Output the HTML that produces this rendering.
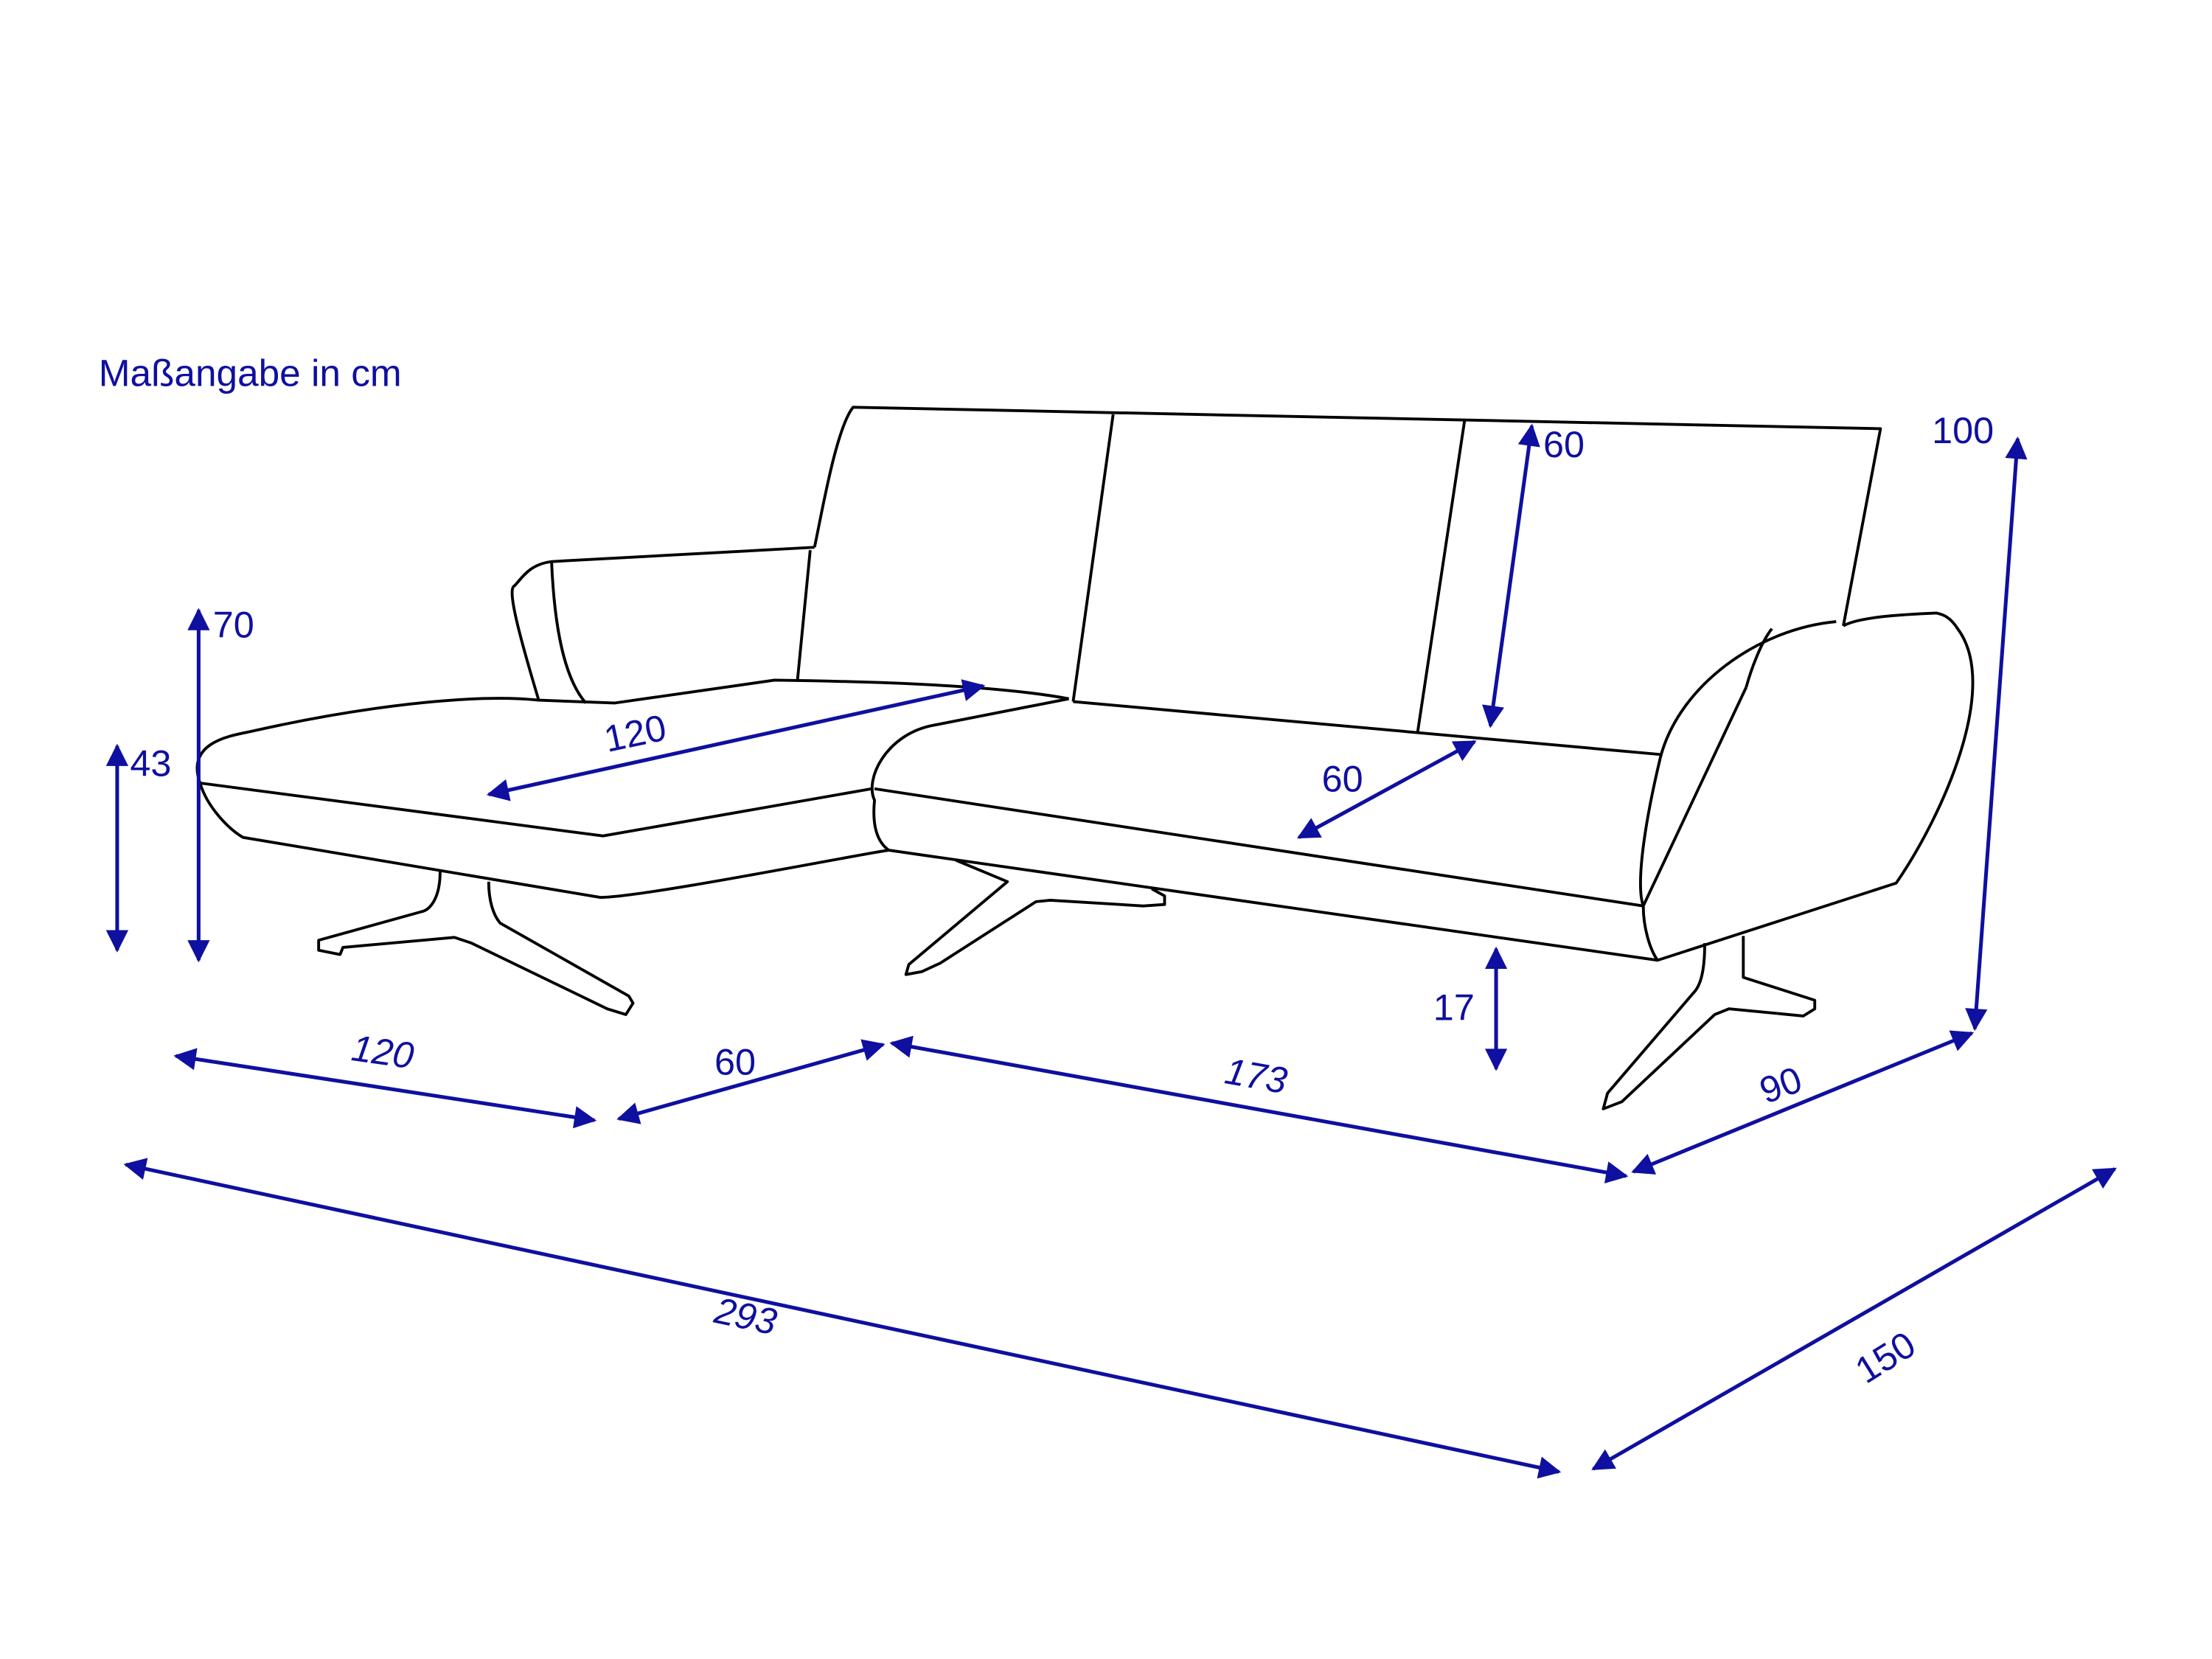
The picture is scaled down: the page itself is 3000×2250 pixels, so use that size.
<!DOCTYPE html>
<html><head><meta charset="utf-8"><style>html,body{margin:0;padding:0;background:#fff}svg{display:block}</style></head><body>
<svg width="3000" height="2250" viewBox="0 0 1548 1161" xmlns="http://www.w3.org/2000/svg">
<defs>
<marker id="a" viewBox="0 0 10 10" refX="9" refY="5" markerWidth="9" markerHeight="6" orient="auto-start-reverse" markerUnits="strokeWidth">
<path d="M0,0 L10,5 L0,10 z" fill="#0f0fa0"/></marker>
</defs>
<rect width="1548" height="1161" fill="#fff"/>
<g fill="none" stroke="#000" stroke-width="2" stroke-linejoin="round">
<path d="M570,383 C575,360 585,300 597,285 L1316,300 L1290,438"/>
<path d="M779,290 L751,491 M1025,294 L992,513"/>
<path d="M570,383 L386,393 C370,395 365,405 360,410 C355,412 362,440 377,490 M386,393 C388,440 395,475 410,492 M567,385 L558,477"/>
<path d="M140,548 C130,520 160,515 175,512 C250,495 330,485 377,490 L430,492 L542,476 C620,477 700,480 748,489"/>
<path d="M140,548 L422,585 L610,552 M140,548 C145,565 160,580 170,586 L420,628 C450,628 600,598 622,595"/>
<path d="M748,489 L651,508 C620,515 605,545 612,560 C610,580 615,590 622,595 L1160,672 L1327,618 C1360,570 1400,480 1370,440 C1365,432 1360,430 1355,429 C1330,430 1300,432 1290,438"/>
<path d="M751,491 L1162,528 M612,552 L1150,634"/>
<path d="M1285,435 C1230,440 1175,480 1162,530 C1150,580 1145,620 1150,634 C1150,650 1155,665 1160,672 M1222,481 L1150,634 M1240,440 C1232,450 1225,470 1222,481"/>
<path d="M308,610 C308,630 300,637 295,638 L223,658 L223,665 L238,668 L240,663 L318,656 L330,660 L425,706 L438,710 L443,702 L440,697 L350,646 C345,640 342,630 342,617"/>
<path d="M669,602 L705,617 L636,675 L634,682 L645,680 L658,674 L725,631 L735,630 L800,634 L815,633 L815,627 L806,622"/>
<path d="M1193,660 C1193,680 1190,690 1185,695 L1125,765 L1122,776 L1135,771 L1200,710 L1210,706 L1262,711 L1270,706 L1270,700 L1220,684 L1220,655"/>
</g>
<g stroke="#0f0fa0" stroke-width="2.6" marker-start="url(#a)" marker-end="url(#a)">
<line x1="139" y1="427" x2="139" y2="672"/>
<line x1="82" y1="522" x2="82" y2="665"/>
<line x1="688" y1="480" x2="342" y2="556"/>
<line x1="1072" y1="298" x2="1043" y2="508"/>
<line x1="1412" y1="307" x2="1382" y2="720"/>
<line x1="1032" y1="519" x2="909" y2="586"/>
<line x1="1047" y1="664" x2="1047" y2="748"/>
<line x1="123" y1="739" x2="416" y2="784"/>
<line x1="433" y1="783" x2="618" y2="731"/>
<line x1="624" y1="730" x2="1138" y2="823"/>
<line x1="1143" y1="820" x2="1380" y2="723"/>
<line x1="88" y1="815" x2="1091" y2="1030"/>
<line x1="1115" y1="1028" x2="1480" y2="818"/>
</g>
<g fill="#0f0fa0" font-family="Liberation Sans, sans-serif" font-size="26">
<text x="69" y="270" font-size="26.5">Maßangabe in cm</text>
<text x="149" y="446">70</text>
<text x="91" y="543">43</text>
<text x="423" y="522" transform="rotate(-12 445 514)">120</text>
<text x="1080" y="320">60</text>
<text x="1352" y="310">100</text>
<text x="925" y="554">60</text>
<text x="1003" y="714">17</text>
<text x="246" y="745" font-style="italic" transform="rotate(8 268 737)">120</text>
<text x="500" y="752">60</text>
<text x="857" y="762" font-style="italic" transform="rotate(10 880 755)">173</text>
<text x="1232" y="768" transform="rotate(-20 1247 760)">90</text>
<text x="500" y="930" font-style="italic" transform="rotate(12 522 922)">293</text>
<text x="1294" y="962" transform="rotate(-32 1312 945)">150</text>
</g>
</svg>
</body></html>
